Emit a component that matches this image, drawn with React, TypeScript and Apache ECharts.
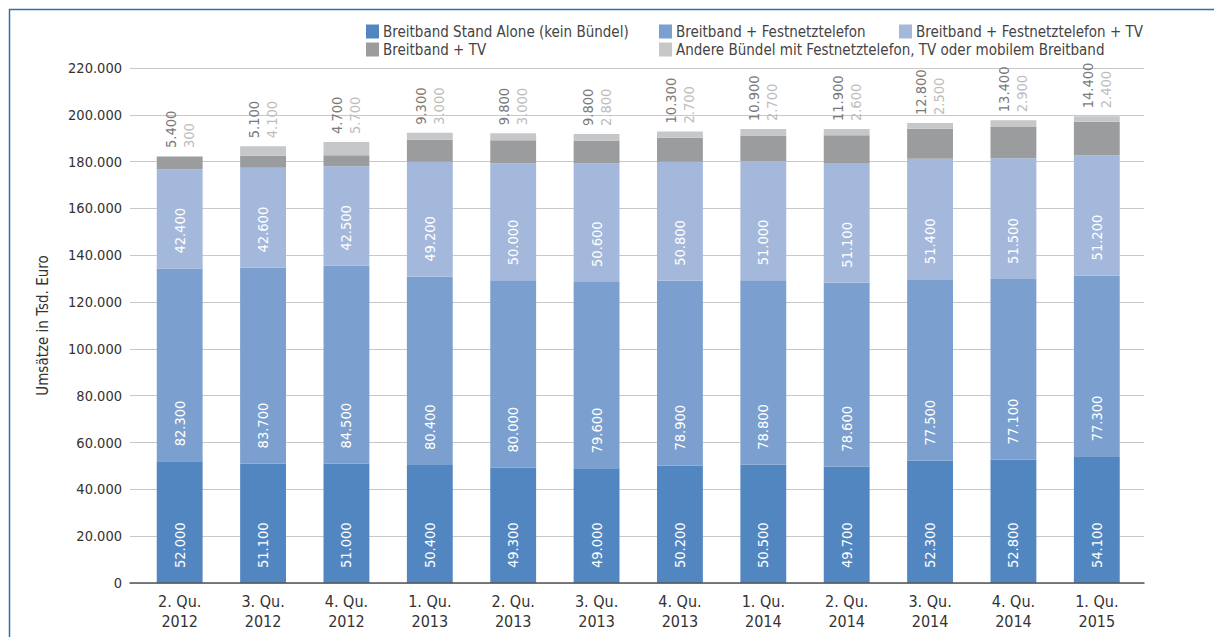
import React, { useEffect, useRef } from "react";
import * as echarts from "echarts";

const categories = [
  "2. Qu.\n2012", "3. Qu.\n2012", "4. Qu.\n2012",
  "1. Qu.\n2013", "2. Qu.\n2013", "3. Qu.\n2013", "4. Qu.\n2013",
  "1. Qu.\n2014", "2. Qu.\n2014", "3. Qu.\n2014", "4. Qu.\n2014",
  "1. Qu.\n2015",
];
const seriesNames = [
  "Breitband Stand Alone (kein Bündel)",
  "Breitband + Festnetztelefon",
  "Breitband + Festnetztelefon + TV",
  "Breitband + TV",
  "Andere Bündel mit Festnetztelefon, TV oder mobilem Breitband",
];
const standAlone = [52000, 51100, 51000, 50400, 49300, 49000, 50200, 50500, 49700, 52300, 52800, 54100];
const festnetz = [82300, 83700, 84500, 80400, 80000, 79600, 78900, 78800, 78600, 77500, 77100, 77300];
const festnetzTv = [42400, 42600, 42500, 49200, 50000, 50600, 50800, 51000, 51100, 51400, 51500, 51200];
const tv = [5400, 5100, 4700, 9300, 9800, 9800, 10300, 10900, 11900, 12800, 13400, 14400];
const andere = [300, 4100, 5700, 3000, 3000, 2800, 2700, 2700, 2600, 2500, 2900, 2400];
const yTicks = { min: 0, max: 220000, interval: 20000 };

const colors = ["#5186c1", "#7b9fce", "#a3b8db", "#9b9c9e", "#c6c7c9"];
const FONT = "'Liberation Sans Narrow', 'DejaVu Sans Condensed', 'Roboto', sans-serif";

const fmt = (v: number) => String(v).replace(/\B(?=(\d{3})+(?!\d))/g, ".");

export default function App() {
  const ref = useRef<HTMLDivElement>(null);
  useEffect(() => {
    if (!ref.current) return;
    const chart = echarts.init(ref.current, undefined, { renderer: "svg" });
    const insideLabel = {
      show: true,
      position: "insideBottom" as const,
      rotate: 90,
      align: "left" as const,
      verticalAlign: "middle" as const,
      distance: 15,
      color: "#ffffff",
      fontSize: 14.5,
      fontFamily: FONT,
      formatter: (p: any) => fmt(p.value),
    };
    const datas = [standAlone, festnetz, festnetzTv, tv, andere];
    const series: any[] = datas.map((d, i) => ({
      name: seriesNames[i],
      type: "bar",
      stack: "total",
      data: d,
      xAxisIndex: 1,
      yAxisIndex: 1,
      barWidth: "55%",
      itemStyle: { color: colors[i] },
      label: i < 3 ? insideLabel : { show: false },
    }));
    series[4].label = {
      show: true,
      position: "top",
      rotate: 90,
      align: "left",
      verticalAlign: "middle",
      distance: 8,
      fontFamily: FONT,
      formatter: (p: any) => `{a|${fmt(tv[p.dataIndex])}}\n{b|${fmt(andere[p.dataIndex])}}`,
      rich: {
        a: { color: "#7a7a7a", fontSize: 14.5, fontFamily: FONT, lineHeight: 18 },
        b: { color: "#bdbdbd", fontSize: 14.5, fontFamily: FONT, lineHeight: 18 },
      },
    };
    const legendPos = [
      [366, 24], [659, 24], [899, 24], [366, 42], [659, 42],
    ];
    chart.setOption({
      animation: false,
      textStyle: { fontFamily: FONT },
      legend: seriesNames.map((n, i) => ({
        data: [n],
        left: legendPos[i][0],
        top: legendPos[i][1],
        padding: 0,
        itemWidth: 13,
        itemHeight: 14,
        itemGap: 5,
        icon: "rect",
        selectedMode: false,
        textStyle: { color: "#444", fontSize: 15, fontFamily: FONT, padding: [0, 0, 0, -1] },
      })),
      grid: [
        { left: 130, right: 70, top: 68, bottom: 54, containLabel: false },
        { left: 138, right: 75.5, top: 68, bottom: 54, containLabel: false },
      ],
      xAxis: [
        {
          type: "category",
          gridIndex: 0,
          data: categories,
          axisLine: { lineStyle: { color: "#555", width: 1.5 } },
          axisTick: { show: false },
          axisLabel: { show: false },
          z: 5,
        },
        {
          type: "category",
          gridIndex: 1,
          data: categories,
          axisLine: { show: false },
          axisTick: { show: false },
          axisLabel: { color: "#333", fontSize: 16, lineHeight: 20, margin: 8, fontFamily: FONT },
        },
      ],
      yAxis: [
        {
          type: "value",
          gridIndex: 0,
          ...yTicks,
          name: "Umsätze in Tsd. Euro",
          nameLocation: "middle",
          nameGap: 80,
          nameRotate: 90,
          nameTextStyle: { color: "#333", fontSize: 15, fontFamily: FONT },
          axisLine: { show: false },
          axisTick: { show: false },
          splitLine: { lineStyle: { color: "#c8c8c8", width: 1 } },
          axisLabel: { color: "#333", fontSize: 14.5, margin: 8, fontFamily: FONT, formatter: (v: number) => fmt(v) },
        },
        {
          type: "value",
          gridIndex: 1,
          ...yTicks,
          show: false,
          splitLine: { show: false },
        },
      ],
      graphic: [
        {
          type: "polyline",
          shape: { points: [[9.5, 637], [9.5, 9.5], [1214, 9.5]] },
          style: { stroke: "#2f6fb7", lineWidth: 1.5, fill: "none" },
          silent: true,
        },
      ],
      series,
    });
    return () => chart.dispose();
  }, []);
  return (
    <div
      ref={ref}
      style={{ position: "fixed", left: 0, top: 0, width: 1214, height: 637, background: "#fff" }}
    />
  );
}
